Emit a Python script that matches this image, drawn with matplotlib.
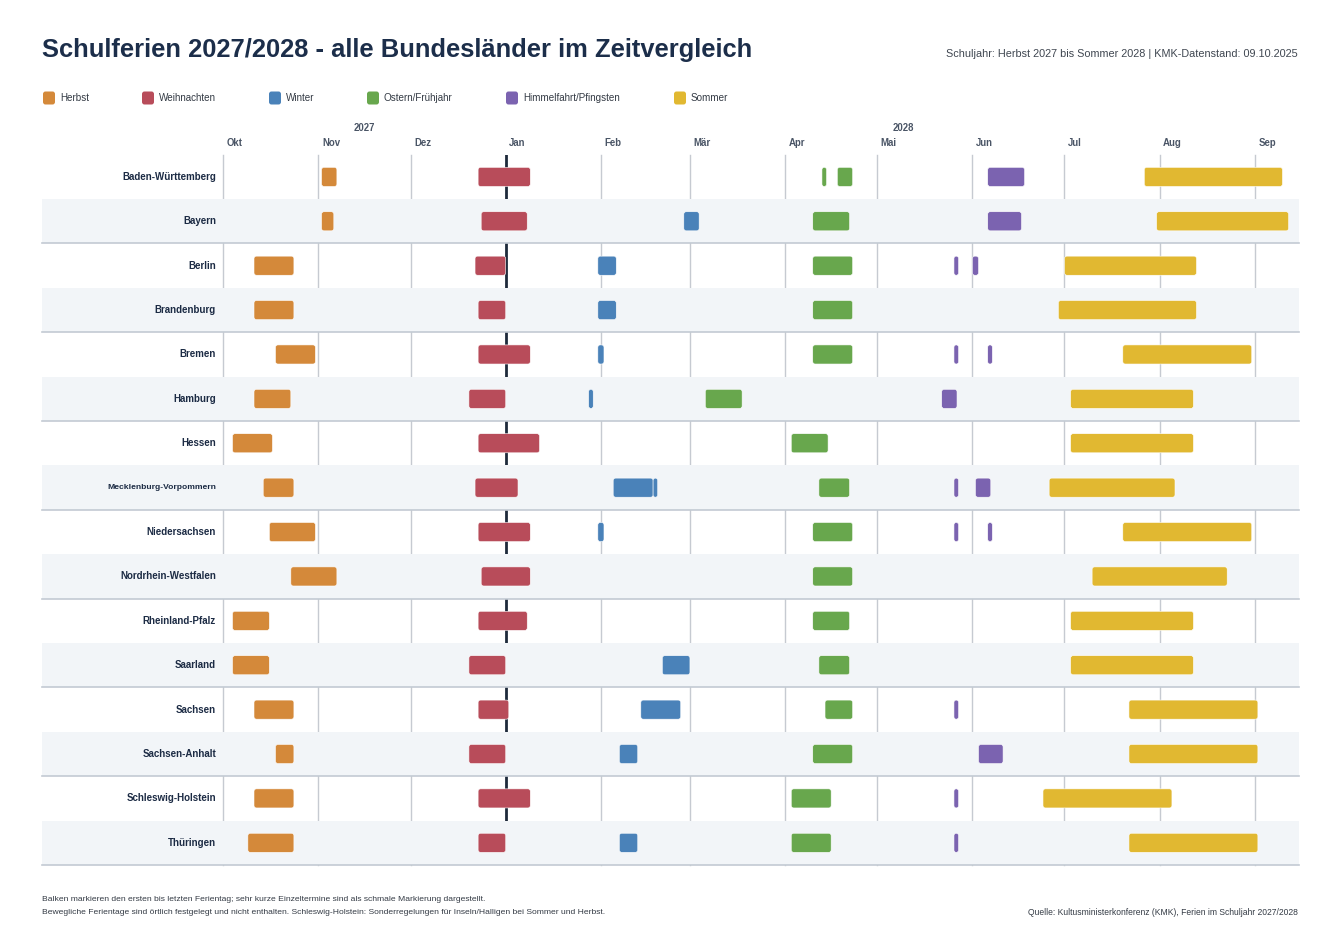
import matplotlib
matplotlib.use("Agg")
import matplotlib.pyplot as plt
import matplotlib.dates as mdates
import matplotlib.transforms as mtransforms
from matplotlib.patches import FancyBboxPatch
import pandas as pd

plt.rcParams['font.family'] = ['Liberation Sans', 'DejaVu Sans']

# ---- data -------------------------------------------------------------
states = ["Baden-Württemberg", "Bayern", "Berlin", "Brandenburg", "Bremen",
          "Hamburg", "Hessen", "Mecklenburg-Vorpommern", "Niedersachsen",
          "Nordrhein-Westfalen", "Rheinland-Pfalz", "Saarland", "Sachsen",
          "Sachsen-Anhalt", "Schleswig-Holstein", "Thüringen"]

categories = ["Herbst", "Weihnachten", "Winter", "Ostern/Frühjahr",
              "Himmelfahrt/Pfingsten", "Sommer"]
colors = ["#d4893a", "#b84c5a", "#4a82b9", "#68a74d", "#7b63b0", "#e1b831"]

# (Land, erster Ferientag, letzter Ferientag)
herbst = [
    ("Baden-Württemberg", "2027-11-02", "2027-11-06"),
    ("Bayern", "2027-11-02", "2027-11-05"),
    ("Berlin", "2027-10-11", "2027-10-23"),
    ("Brandenburg", "2027-10-11", "2027-10-23"),
    ("Bremen", "2027-10-18", "2027-10-30"),
    ("Hamburg", "2027-10-11", "2027-10-22"),
    ("Hessen", "2027-10-04", "2027-10-16"),
    ("Mecklenburg-Vorpommern", "2027-10-14", "2027-10-23"),
    ("Niedersachsen", "2027-10-16", "2027-10-30"),
    ("Nordrhein-Westfalen", "2027-10-23", "2027-11-06"),
    ("Rheinland-Pfalz", "2027-10-04", "2027-10-15"),
    ("Saarland", "2027-10-04", "2027-10-15"),
    ("Sachsen", "2027-10-11", "2027-10-23"),
    ("Sachsen-Anhalt", "2027-10-18", "2027-10-23"),
    ("Schleswig-Holstein", "2027-10-11", "2027-10-23"),
    ("Thüringen", "2027-10-09", "2027-10-23"),
]
weihnachten = [
    ("Baden-Württemberg", "2027-12-23", "2028-01-08"),
    ("Bayern", "2027-12-24", "2028-01-07"),
    ("Berlin", "2027-12-22", "2027-12-31"),
    ("Brandenburg", "2027-12-23", "2027-12-31"),
    ("Bremen", "2027-12-23", "2028-01-08"),
    ("Hamburg", "2027-12-20", "2027-12-31"),
    ("Hessen", "2027-12-23", "2028-01-11"),
    ("Mecklenburg-Vorpommern", "2027-12-22", "2028-01-04"),
    ("Niedersachsen", "2027-12-23", "2028-01-08"),
    ("Nordrhein-Westfalen", "2027-12-24", "2028-01-08"),
    ("Rheinland-Pfalz", "2027-12-23", "2028-01-07"),
    ("Saarland", "2027-12-20", "2027-12-31"),
    ("Sachsen", "2027-12-23", "2028-01-01"),
    ("Sachsen-Anhalt", "2027-12-20", "2027-12-31"),
    ("Schleswig-Holstein", "2027-12-23", "2028-01-08"),
    ("Thüringen", "2027-12-23", "2027-12-31"),
]
winter = [
    ("Bayern", "2028-02-28", "2028-03-03"),
    ("Berlin", "2028-01-31", "2028-02-05"),
    ("Brandenburg", "2028-01-31", "2028-02-05"),
    ("Bremen", "2028-01-31", "2028-02-01"),
    ("Hamburg", "2028-01-28", "2028-01-28"),
    ("Mecklenburg-Vorpommern", "2028-02-05", "2028-02-17"),
    ("Mecklenburg-Vorpommern", "2028-02-18", "2028-02-18"),
    ("Niedersachsen", "2028-01-31", "2028-02-01"),
    ("Saarland", "2028-02-21", "2028-02-29"),
    ("Sachsen", "2028-02-14", "2028-02-26"),
    ("Sachsen-Anhalt", "2028-02-07", "2028-02-12"),
    ("Thüringen", "2028-02-07", "2028-02-12"),
]
ostern = [
    ("Baden-Württemberg", "2028-04-13", "2028-04-13"),
    ("Baden-Württemberg", "2028-04-18", "2028-04-22"),
    ("Bayern", "2028-04-10", "2028-04-21"),
    ("Berlin", "2028-04-10", "2028-04-22"),
    ("Brandenburg", "2028-04-10", "2028-04-22"),
    ("Bremen", "2028-04-10", "2028-04-22"),
    ("Hamburg", "2028-03-06", "2028-03-17"),
    ("Hessen", "2028-04-03", "2028-04-14"),
    ("Mecklenburg-Vorpommern", "2028-04-12", "2028-04-21"),
    ("Niedersachsen", "2028-04-10", "2028-04-22"),
    ("Nordrhein-Westfalen", "2028-04-10", "2028-04-22"),
    ("Rheinland-Pfalz", "2028-04-10", "2028-04-21"),
    ("Saarland", "2028-04-12", "2028-04-21"),
    ("Sachsen", "2028-04-14", "2028-04-22"),
    ("Sachsen-Anhalt", "2028-04-10", "2028-04-22"),
    ("Schleswig-Holstein", "2028-04-03", "2028-04-15"),
    ("Thüringen", "2028-04-03", "2028-04-15"),
]
pfingsten = [
    ("Baden-Württemberg", "2028-06-06", "2028-06-17"),
    ("Bayern", "2028-06-06", "2028-06-16"),
    ("Berlin", "2028-05-26", "2028-05-26"),
    ("Berlin", "2028-06-01", "2028-06-02"),
    ("Bremen", "2028-05-26", "2028-05-26"),
    ("Bremen", "2028-06-06", "2028-06-06"),
    ("Hamburg", "2028-05-22", "2028-05-26"),
    ("Mecklenburg-Vorpommern", "2028-05-26", "2028-05-26"),
    ("Mecklenburg-Vorpommern", "2028-06-02", "2028-06-06"),
    ("Niedersachsen", "2028-05-26", "2028-05-26"),
    ("Niedersachsen", "2028-06-06", "2028-06-06"),
    ("Sachsen", "2028-05-26", "2028-05-26"),
    ("Sachsen-Anhalt", "2028-06-03", "2028-06-10"),
    ("Schleswig-Holstein", "2028-05-26", "2028-05-26"),
    ("Thüringen", "2028-05-26", "2028-05-26"),
]
sommer = [
    ("Baden-Württemberg", "2028-07-27", "2028-09-09"),
    ("Bayern", "2028-07-31", "2028-09-11"),
    ("Berlin", "2028-07-01", "2028-08-12"),
    ("Brandenburg", "2028-06-29", "2028-08-12"),
    ("Bremen", "2028-07-20", "2028-08-30"),
    ("Hamburg", "2028-07-03", "2028-08-11"),
    ("Hessen", "2028-07-03", "2028-08-11"),
    ("Mecklenburg-Vorpommern", "2028-06-26", "2028-08-05"),
    ("Niedersachsen", "2028-07-20", "2028-08-30"),
    ("Nordrhein-Westfalen", "2028-07-10", "2028-08-22"),
    ("Rheinland-Pfalz", "2028-07-03", "2028-08-11"),
    ("Saarland", "2028-07-03", "2028-08-11"),
    ("Sachsen", "2028-07-22", "2028-09-01"),
    ("Sachsen-Anhalt", "2028-07-22", "2028-09-01"),
    ("Schleswig-Holstein", "2028-06-24", "2028-08-04"),
    ("Thüringen", "2028-07-22", "2028-09-01"),
]
series = [herbst, weihnachten, winter, ostern, pfingsten, sommer]

month_labels = ["Okt", "Nov", "Dez", "Jan", "Feb", "Mär", "Apr", "Mai",
                "Jun", "Jul", "Aug", "Sep"]
x_start = pd.Timestamp("2027-10-01")
x_end = pd.Timestamp("2028-09-16")
year_break = pd.Timestamp("2028-01-01")

title = "Schulferien 2027/2028 - alle Bundesländer im Zeitvergleich"
subtitle = "Schuljahr: Herbst 2027 bis Sommer 2028 | KMK-Datenstand: 09.10.2025"
note1 = ("Balken markieren den ersten bis letzten Ferientag; sehr kurze "
         "Einzeltermine sind als schmale Markierung dargestellt.")
note2 = ("Bewegliche Ferientage sind örtlich festgelegt und nicht enthalten. "
         "Schleswig-Holstein: Sonderregelungen für Inseln/Halligen bei Sommer und Herbst.")
source = "Quelle: Kultusministerkonferenz (KMK), Ferien im Schuljahr 2027/2028"

# ---- figure -----------------------------------------------------------
W, H = 1336, 927
fig = plt.figure(figsize=(W / 100, H / 100), dpi=100)
px = mtransforms.Affine2D().scale(1 / W, -1 / H).translate(0, 1) + fig.transFigure

ax_l, ax_r, ax_t, ax_b = 223.3, 223.3 + 351 * 3.07, 154.7, 865.0
ax = fig.add_axes([ax_l / W, 1 - ax_b / H, (ax_r - ax_l) / W, (ax_b - ax_t) / H])
n = len(states)
ax.set_xlim(mdates.date2num(x_start), mdates.date2num(x_end))
ax.set_ylim(n - 0.5, -0.5)
ax.axis("off")

band_left = (42 - ax_l) / (ax_r - ax_l)
band_right = (1299 - ax_l) / (ax_r - ax_l)

months = pd.date_range(x_start, periods=12, freq="MS")
for m, lab in zip(months, month_labels):
    if m != year_break:
        ax.axvline(m, color="#c6cad1", lw=1.0, zorder=0.5, clip_on=False)
    ax.text(m, -0.5, lab, transform=mtransforms.offset_copy(
        ax.transData, fig=fig, x=3.5, y=7, units="dots"),
        ha="left", va="bottom", fontsize=6.9, fontweight="bold", color="#4a5566")
ax.axvline(year_break, color="#1e2a3b", lw=2.0, zorder=1)

# year labels centred on the visible part of each year
for y0, y1, lab in [(x_start, year_break, "2027"), (year_break, x_end, "2028")]:
    xc = mdates.date2num(y0) + (mdates.date2num(y1) - mdates.date2num(y0)) / 2
    ax.text(xc, -0.5, lab, transform=mtransforms.offset_copy(
        ax.transData, fig=fig, x=0, y=22, units="dots"),
        ha="center", va="bottom", fontsize=6.9, fontweight="bold", color="#4a5566")

lab_tr = mtransforms.blended_transform_factory(ax.transAxes, ax.transData)
for i, s in enumerate(states):
    if i % 2 == 1:
        ax.axhspan(i - 0.5, i + 0.5, xmin=band_left, xmax=band_right,
                   color="#f2f5f8", lw=0, zorder=2, clip_on=False)
        ax.axhline(i + 0.5, xmin=band_left, xmax=band_right, color="#c3cad3",
                   lw=1.2, zorder=2.5, clip_on=False)
    fs = 6.1 if len(s) > 20 else 7.0
    ax.text((216 - ax_l) / (ax_r - ax_l), i, s, transform=lab_tr, ha="right",
            va="center", fontsize=fs, fontweight="bold", color="#1c2b44")

bar_h = 0.43
aspect = 3.07 / 44.4
for rows, col in zip(series, colors):
    for state, start, end in rows:
        x0 = mdates.date2num(pd.Timestamp(start))
        w = mdates.date2num(pd.Timestamp(end) + pd.Timedelta(days=1)) - x0
        w = max(w, 1.5)
        y = states.index(state)
        r = min(0.8, w / 2)
        ax.add_patch(FancyBboxPatch((x0, y - bar_h / 2), w, bar_h,
                                    boxstyle=f"round,pad=0,rounding_size={r}",
                                    mutation_aspect=aspect, facecolor=col,
                                    edgecolor="white", lw=0.4, zorder=3))

# ---- header / legend / footer ----------------------------------------
fig.text(42, 50, title, transform=px, ha="left", va="center", fontsize=18.4,
         fontweight="bold", color="#1c2e4a")
fig.text(1298, 54, subtitle, transform=px, ha="right", va="center",
         fontsize=7.8, color="#3f4650")

leg_x = [43, 142, 269, 367, 506, 674]
for lx, lab, col in zip(leg_x, categories, colors):
    fig.patches.append(FancyBboxPatch((lx, 91.5), 12, 13,
                                      boxstyle="round,pad=0,rounding_size=2.5",
                                      transform=px, facecolor=col, lw=0))
    fig.text(lx + 17, 98, lab, transform=px, ha="left", va="center",
             fontsize=7.1, color="#333a44")

fig.text(42, 900, note1, transform=px, ha="left", va="center", fontsize=6.1,
         color="#333a44")
fig.text(42, 913, note2, transform=px, ha="left", va="center", fontsize=6.1,
         color="#333a44")
fig.text(1298, 913, source, transform=px, ha="right", va="center",
         fontsize=6.15, color="#333a44")

fig.savefig("out.png", dpi=100, facecolor="white")
